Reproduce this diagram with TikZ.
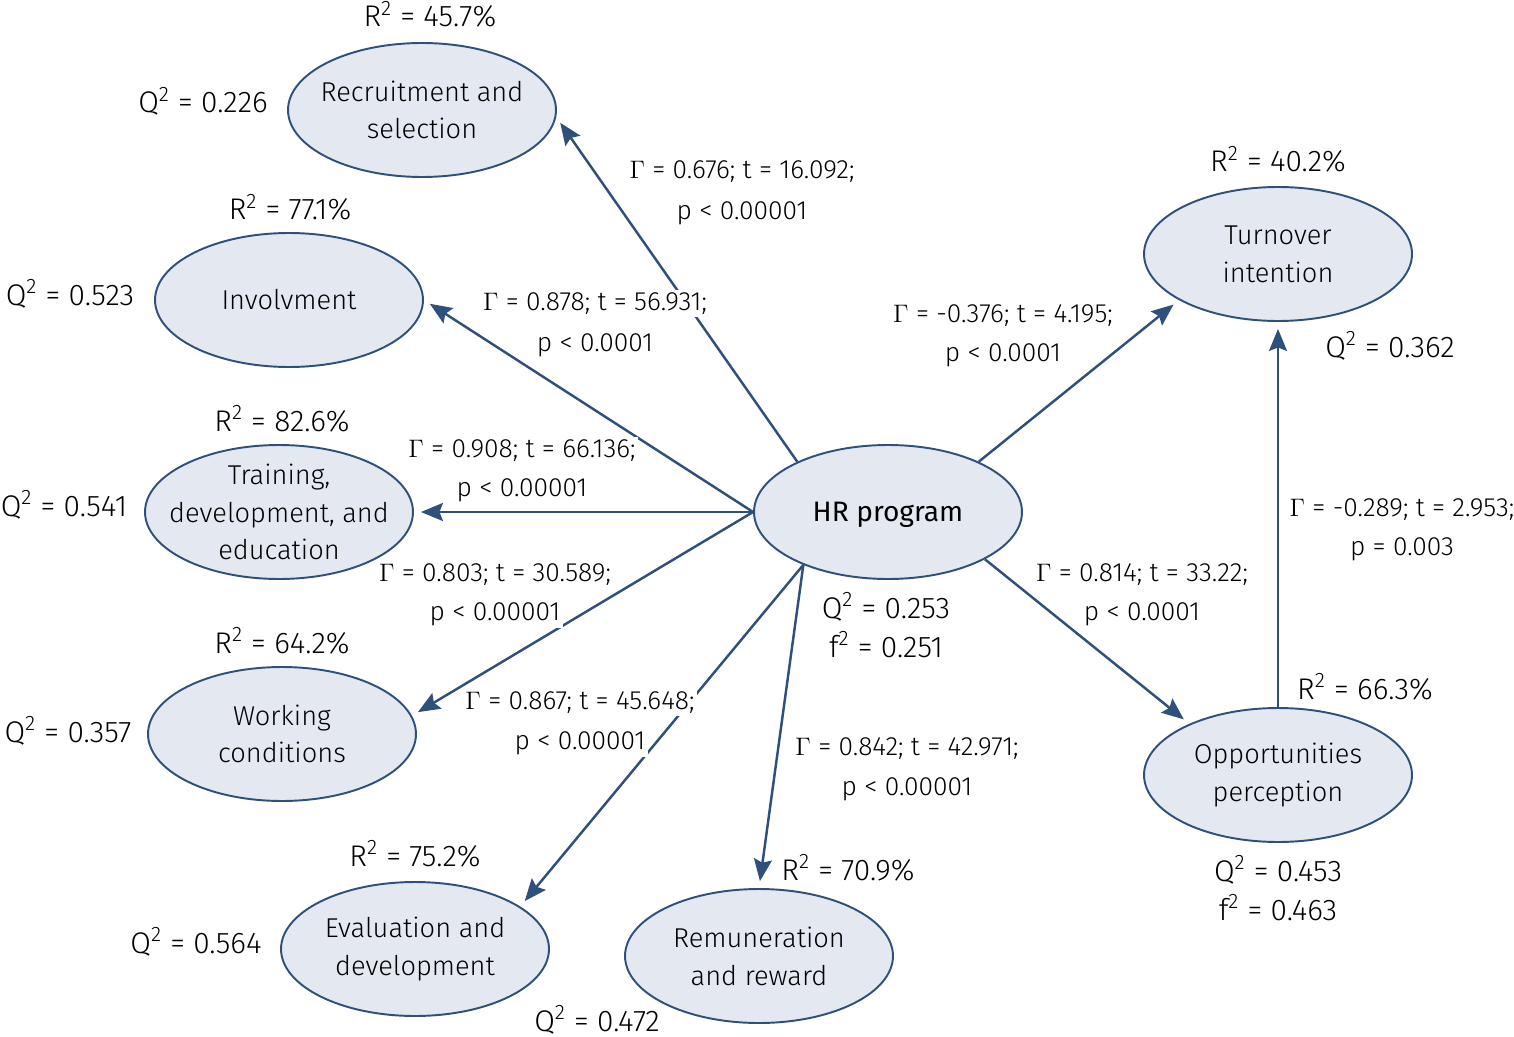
\documentclass[tikz,border=0pt]{standalone}
\usepackage{fontspec}
\setmainfont{Fira Sans Light}[BoldFont=Fira Sans]
\usetikzlibrary{shapes.geometric,arrows.meta}
\definecolor{hrblue}{RGB}{46,80,122}
\definecolor{hrfill}{RGB}{228,233,241}
\tikzset{
  construct/.style={draw=hrblue, fill=hrfill, ellipse, line width=1.1pt,
    minimum width=5.36cm, minimum height=2.68cm, inner sep=0pt},
  conlabel/.style={font=\fontsize{15.5}{21.5}\selectfont, align=center},
  effect/.style={draw=hrblue, line width=1.4pt, shorten >=0.14cm,
    -{Stealth[length=4.4mm,width=3.6mm,inset=0.7mm]}},
  coef/.style={fill=white, inner sep=1.5pt, anchor=base, font=\fontsize{15}{17}\selectfont},
  stat/.style={inner sep=0pt, anchor=base, font=\fontsize{17}{19}\selectfont}
}
\begin{document}
\begin{tikzpicture}[x=0.02cm, y=-0.02cm]
    \useasboundingbox (0,0) rectangle (1514,1037);
    % constructs
    \node[construct, label={[conlabel]center:Recruitment and\\selection}] (rec) at (422,110) {};
    \node[construct, label={[conlabel]center:Involvment}] (inv) at (289,300) {};
    \node[construct, label={[conlabel]center:{Training,\\development, and\\education}}] (tr) at (279,512) {};
    \node[construct, label={[conlabel]center:Working\\conditions}] (wc) at (282,734) {};
    \node[construct, label={[conlabel]center:Evaluation and\\development}] (ev) at (415,949) {};
    \node[construct, label={[conlabel]center:Remuneration\\and reward}] (rem) at (759,956) {};
    \node[construct, label={[conlabel, font=\fontsize{16}{19}\selectfont\bfseries, yshift=-1.5pt]center:HR program}] (hr) at (888,512) {};
    \node[construct, label={[conlabel]center:Turnover\\intention}] (tu) at (1278,254) {};
    \node[construct, label={[conlabel]center:Opportunities\\perception}] (op) at (1278,775) {};
    % paths
    \draw[effect] (hr.151) -- (rec.-3);
    \draw[effect] (hr.west) -- (inv.east);
    \draw[effect] (hr.west) -- (tr.east);
    \draw[effect] (hr.west) -- (wc.8);
    \draw[effect] (hr.212) -- (ev.22);
    \draw[effect] (hr.212) -- (rem.north);
    \draw[effect] (hr.29) -- (tu.205);
    \draw[effect] (hr.-26) -- (op.150);
    \draw[effect] (op.north) -- (tu.south);
    % path coefficients
    \node[coef] (c1a) at (742,179) {$\Gamma$ = 0.676; t = 16.092;};
    \node[coef] (c1b) at (742,219) {p < 0.00001};
    \node[coef] (c2a) at (595,310) {$\Gamma$ = 0.878; t = 56.931;};
    \node[coef] (c2b) at (595,351) {p < 0.0001};
    \node[coef] (c3a) at (522,457) {$\Gamma$ = 0.908; t = 66.136;};
    \node[coef] (c3b) at (522,496) {p < 0.00001};
    \node[coef] (c4a) at (495,581) {$\Gamma$ = 0.803; t = 30.589;};
    \node[coef] (c4b) at (495,620) {p < 0.00001};
    \node[coef] (c5a) at (580,709) {$\Gamma$ = 0.867; t = 45.648;};
    \node[coef] (c5b) at (580,749) {p < 0.00001};
    \node[coef] (c6a) at (907,755) {$\Gamma$ = 0.842; t = 42.971;};
    \node[coef] (c6b) at (907,795) {p < 0.00001};
    \node[coef] (c7a) at (1003,322) {$\Gamma$ = -0.376; t = 4.195;};
    \node[coef] (c7b) at (1003,361) {p < 0.0001};
    \node[coef] (c8a) at (1142,581) {$\Gamma$ = 0.814; t = 33.22;};
    \node[coef] (c8b) at (1142,620) {p < 0.0001};
    \node[coef] (c9a) at (1402,516) {$\Gamma$ = -0.289; t = 2.953;};
    \node[coef] (c9b) at (1402,555) {p = 0.003};
    % R2, Q2 and f2
    \node[stat] (r2rec) at (430,27) {R\textsuperscript{2} = 45.7\%};
    \node[stat] (q2rec) at (203,113) {Q\textsuperscript{2} = 0.226};
    \node[stat] (r2inv) at (290,220) {R\textsuperscript{2} = 77.1\%};
    \node[stat] (q2inv) at (70,305) {Q\textsuperscript{2} = 0.523};
    \node[stat] (r2tr) at (282,431) {R\textsuperscript{2} = 82.6\%};
    \node[stat] (q2tr) at (64,516) {Q\textsuperscript{2} = 0.541};
    \node[stat] (r2wc) at (282,653) {R\textsuperscript{2} = 64.2\%};
    \node[stat] (q2wc) at (68,742) {Q\textsuperscript{2} = 0.357};
    \node[stat] (r2ev) at (415,866) {R\textsuperscript{2} = 75.2\%};
    \node[stat] (q2ev) at (196,953) {Q\textsuperscript{2} = 0.564};
    \node[stat] (r2rem) at (848,880) {R\textsuperscript{2} = 70.9\%};
    \node[stat] (q2rem) at (597,1031) {Q\textsuperscript{2} = 0.472};
    \node[stat] (q2hr) at (886,618) {Q\textsuperscript{2} = 0.253};
    \node[stat] (f2hr) at (886,657) {f\textsuperscript{2} = 0.251};
    \node[stat] (r2tu) at (1278,172) {R\textsuperscript{2} = 40.2\%};
    \node[stat] (q2tu) at (1390,357) {Q\textsuperscript{2} = 0.362};
    \node[stat] (r2op) at (1365,699) {R\textsuperscript{2} = 66.3\%};
    \node[stat] (q2op) at (1278,881) {Q\textsuperscript{2} = 0.453};
    \node[stat] (f2op) at (1278,920) {f\textsuperscript{2} = 0.463};
\end{tikzpicture}
\end{document}
